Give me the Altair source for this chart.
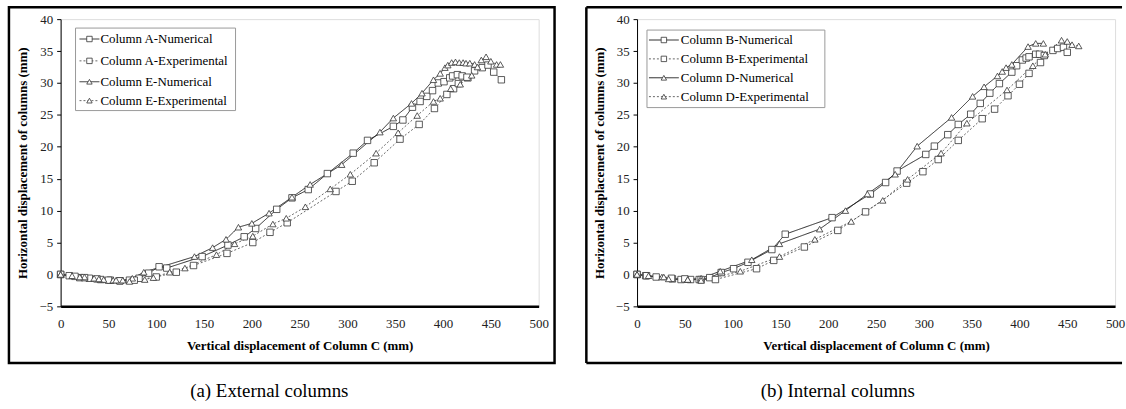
import altair as alt
import pandas as pd

FONT = "Liberation Serif"

# ---------------- Panel (a) External columns ----------------
a_num_x = [0, 9, 20, 30, 42, 52, 62, 72, 82, 92, 103, 111, 148, 175, 192, 204, 226, 242, 259, 279, 306, 321, 348, 358, 368, 376, 383, 389, 395, 401, 407, 410, 415, 420, 426]
a_num_y = [0, -0.2, -0.5, -0.6, -0.8, -0.9, -1.0, -0.9, -0.6, 0.2, 1.2, 1.0, 2.8, 4.6, 5.9, 7.2, 10.2, 12.0, 13.3, 15.8, 19.0, 21.0, 23.2, 24.2, 26.2, 27.1, 27.9, 28.8, 30.0, 30.2, 30.8, 31.1, 31.3, 31.1, 30.8]

a_exp_x = [0, 15, 25, 38, 50, 62, 77, 100, 121, 139, 174, 201, 219, 237, 288, 305, 328, 355, 375, 391, 404, 411, 416, 425, 433, 441, 447, 453, 461]
a_exp_y = [0, -0.3, -0.5, -0.7, -0.9, -1.0, -0.9, -0.4, 0.35, 1.4, 3.3, 5.0, 6.6, 8.1, 13.0, 14.6, 17.5, 21.2, 23.5, 26.0, 28.2, 29.1, 29.9, 30.9, 31.9, 32.4, 32.8, 31.7, 30.5]

e_num_x = [0, 12, 25, 35, 45, 55, 65, 75, 87, 140, 159, 173, 186, 200, 218, 242, 261, 294, 334, 348, 367, 378, 390, 397, 402, 405, 409, 413, 417, 421, 424, 428, 433]
e_num_y = [0, -0.2, -0.4, -0.6, -0.8, -0.9, -0.9, -0.6, 0.35, 2.8, 4.2, 5.5, 7.4, 8.0, 9.6, 12.1, 14.1, 17.2, 22.3, 24.5, 26.8, 28.4, 30.5, 31.5, 32.4, 32.8, 33.2, 33.3, 33.2, 33.2, 33.1, 33.1, 32.9]

e_exp_x = [0, 20, 40, 58, 72, 88, 97, 114, 130, 163, 182, 201, 222, 236, 256, 282, 303, 330, 353, 373, 390, 397, 408, 418, 430, 436, 440, 445, 450, 456, 460]
e_exp_y = [0, -0.4, -0.7, -0.9, -1.1, -0.8, -0.5, 0.35, 1.0, 3.1, 4.8, 6.0, 7.9, 8.8, 10.6, 13.4, 15.7, 19.0, 22.2, 24.9, 27.1, 27.6, 29.1, 29.8, 31.2, 32.5, 33.6, 34.1, 33.4, 32.9, 32.9]

# ---------------- Panel (b) Internal columns ----------------
b_num_x = [0, 9, 20, 37, 46, 56, 65, 76, 88, 101, 116, 141, 155, 204, 244, 260, 272, 302, 311, 325, 336, 349, 359, 369, 379, 392, 397, 403, 407, 410, 417, 421, 426]
b_num_y = [0, -0.2, -0.4, -0.7, -0.8, -0.8, -0.8, -0.5, 0.3, 0.9, 1.9, 3.9, 6.3, 8.9, 12.6, 14.4, 16.2, 18.8, 20.1, 21.9, 23.5, 25.1, 26.8, 28.4, 29.9, 31.7, 32.7, 33.6, 33.9, 34.1, 34.5, 34.5, 34.3]

b_exp_x = [0, 10, 36, 50, 67, 82, 125, 143, 175, 210, 239, 282, 299, 315, 336, 361, 374, 388, 400, 410, 422, 435, 440, 446, 450]
b_exp_y = [0, -0.2, -0.6, -0.7, -0.8, -0.8, 0.9, 2.2, 4.3, 6.9, 9.8, 14.3, 16.1, 18.0, 21.0, 24.4, 25.9, 28.0, 29.8, 31.5, 33.2, 35.1, 35.4, 35.6, 34.8]

d_num_x = [0, 12, 26, 33, 53, 67, 87, 120, 149, 191, 218, 241, 270, 293, 329, 351, 363, 377, 382, 386, 392, 409, 417, 425]
d_num_y = [0, -0.2, -0.4, -0.7, -0.8, -0.6, 0.5, 2.3, 4.8, 7.1, 10.0, 12.6, 15.7, 20.1, 24.6, 27.9, 29.4, 31.1, 31.8, 32.4, 32.9, 35.7, 36.2, 36.2]

d_exp_x = [0, 28, 53, 67, 108, 149, 186, 224, 257, 283, 318, 345, 387, 414, 427, 444, 450, 455, 462]
d_exp_y = [0, -0.4, -0.8, -0.95, 0.5, 2.8, 5.5, 8.3, 11.6, 14.9, 19.0, 23.7, 28.9, 32.7, 34.5, 36.7, 36.5, 36.0, 35.8]

x_ticks = [0, 50, 100, 150, 200, 250, 300, 350, 400, 450, 500]
y_ticks = [-5, 0, 5, 10, 15, 20, 25, 30, 35, 40]

x_title = "Vertical displacement of Column C (mm)"
y_title = "Horizontal displacement of columns (mm)"

panel_a_series = [
    ("Column A-Numerical", "num", "square", a_num_x, a_num_y),
    ("Column A-Experimental", "exp", "square", a_exp_x, a_exp_y),
    ("Column E-Numerical", "num", "triangle-up", e_num_x, e_num_y),
    ("Column E-Experimental", "exp", "triangle-up", e_exp_x, e_exp_y),
]
panel_b_series = [
    ("Column B-Numerical", "num", "square", b_num_x, b_num_y),
    ("Column B-Experimental", "exp", "square", b_exp_x, b_exp_y),
    ("Column D-Numerical", "num", "triangle-up", d_num_x, d_num_y),
    ("Column D-Experimental", "exp", "triangle-up", d_exp_x, d_exp_y),
]

W, H = 481, 289
LINE_COL = {"num": "#111111", "exp": "#555555"}
LINE_DASH = {"num": [1, 0], "exp": [2, 2]}
MK_COL = "#333333"
MK_SIZE = 42


def make_df(series):
    rows = []
    for name, kind, shape, xs, ys in series:
        for xv, yv in zip(xs, ys):
            rows.append({"x": xv, "y": yv, "series": name, "kind": kind, "shape": shape})
    return pd.DataFrame(rows)


one = pd.DataFrame({"k": [0]})


def panel(series, legend_box, legend_rows, sym_x, text_x, caption, cap_x, frame, right_open=False):
    df = make_df(series)
    base = alt.Chart(df)
    xenc = alt.X("x:Q", scale=alt.Scale(domain=[0, 500], nice=False),
                 axis=alt.Axis(values=x_ticks, title=x_title, grid=False, ticks=False,
                               domainColor="black", domainWidth=2.5,
                               labelFont=FONT, labelFontSize=13, labelColor="#222",
                               labelPadding=11, labelFlush=False,
                               titleFont=FONT, titleFontSize=13, titleFontWeight="bold",
                               titleColor="black", titlePadding=9))
    yenc = alt.Y("y:Q", scale=alt.Scale(domain=[-5, 40], nice=False),
                 axis=alt.Axis(values=y_ticks, title=y_title, grid=False, ticks=True,
                               tickSize=4, tickColor="black", domainColor="black", domainWidth=1,
                               labelFont=FONT, labelFontSize=13, labelColor="#222",
                               labelPadding=4, labelFlush=False,
                               titleFont=FONT, titleFontSize=13, titleFontWeight="bold",
                               titleColor="black", titlePadding=9))
    layers = []
    for name, kind, shape, xs, ys in series:
        sub = base.transform_filter(alt.datum.series == name)
        layers.append(sub.mark_line(strokeWidth=0.9, color=LINE_COL[kind],
                                    strokeDash=LINE_DASH[kind]).encode(x=xenc, y=yenc))
    for name, kind, shape, xs, ys in series:
        sub = base.transform_filter(alt.datum.series == name)
        layers.append(sub.mark_point(shape=shape, filled=True, fill="white", stroke=MK_COL,
                                     strokeWidth=0.8, size=MK_SIZE, opacity=1).encode(x=xenc, y=yenc))
    # frame around panel
    fx0, fx1, fy0, fy1 = frame
    fr = alt.Chart(one)
    if right_open:
        layers.append(fr.mark_rule(color="black", strokeWidth=2.5).encode(
            x=alt.value(fx0), x2=alt.value(fx1), y=alt.value(fy0)))
        layers.append(fr.mark_rule(color="black", strokeWidth=2.5).encode(
            x=alt.value(fx0), x2=alt.value(fx1), y=alt.value(fy1)))
        layers.append(fr.mark_rule(color="black", strokeWidth=2.5).encode(
            x=alt.value(fx0), y=alt.value(fy0), y2=alt.value(fy1)))
    else:
        layers.append(fr.mark_rect(fillOpacity=0, stroke="black", strokeWidth=2.5).encode(
            x=alt.value(fx0), x2=alt.value(fx1), y=alt.value(fy0), y2=alt.value(fy1)))
    # legend box
    bx0, by0, bx1, by1 = legend_box
    layers.append(fr.mark_rect(fill="white", stroke="#999999", strokeWidth=1).encode(
        x=alt.value(bx0), x2=alt.value(bx1), y=alt.value(by0), y2=alt.value(by1)))
    for (name, kind, shape, xs, ys), ry in zip(series, legend_rows):
        layers.append(fr.mark_rule(color=LINE_COL[kind], strokeWidth=0.9,
                                   strokeDash=LINE_DASH[kind]).encode(
            x=alt.value(sym_x[0]), x2=alt.value(sym_x[1]), y=alt.value(ry)))
        layers.append(fr.mark_point(shape=shape, filled=True, fill="white", stroke=MK_COL,
                                    strokeWidth=0.8, size=30, opacity=1).encode(
            x=alt.value((sym_x[0] + sym_x[1]) / 2), y=alt.value(ry)))
        layers.append(fr.mark_text(align="left", baseline="middle", font=FONT, fontSize=13,
                                   color="black").encode(
            x=alt.value(text_x), y=alt.value(ry), text=alt.value(name)))
    # caption
    layers.append(fr.mark_text(align="center", baseline="middle", font=FONT, fontSize=19,
                               color="black").encode(
        x=alt.value(cap_x), y=alt.value(374), text=alt.value(caption)))
    return alt.layer(*layers).properties(width=W, height=H)


left = panel(panel_a_series, (15, 9, 176, 92), [20, 42, 63, 82], (19, 39), 40,
             "(a) External columns", 210, (-52, 497, -12, 346))
right = panel(panel_b_series, (10, 11, 189, 89), [21, 40, 59, 78], (12, 42), 44,
              "(b) Internal columns", 202, (-51, 488, -12, 346), right_open=True)

chart = alt.hconcat(left, right, spacing=28).properties(
    padding={"left": 7, "top": 4, "right": 0, "bottom": 0}
).configure_view(stroke=None).configure(background="white", font=FONT).configure_axis(
    labelFont=FONT, titleFont=FONT)

chart.save("out.html", embed_options={"renderer": "svg", "actions": False})
